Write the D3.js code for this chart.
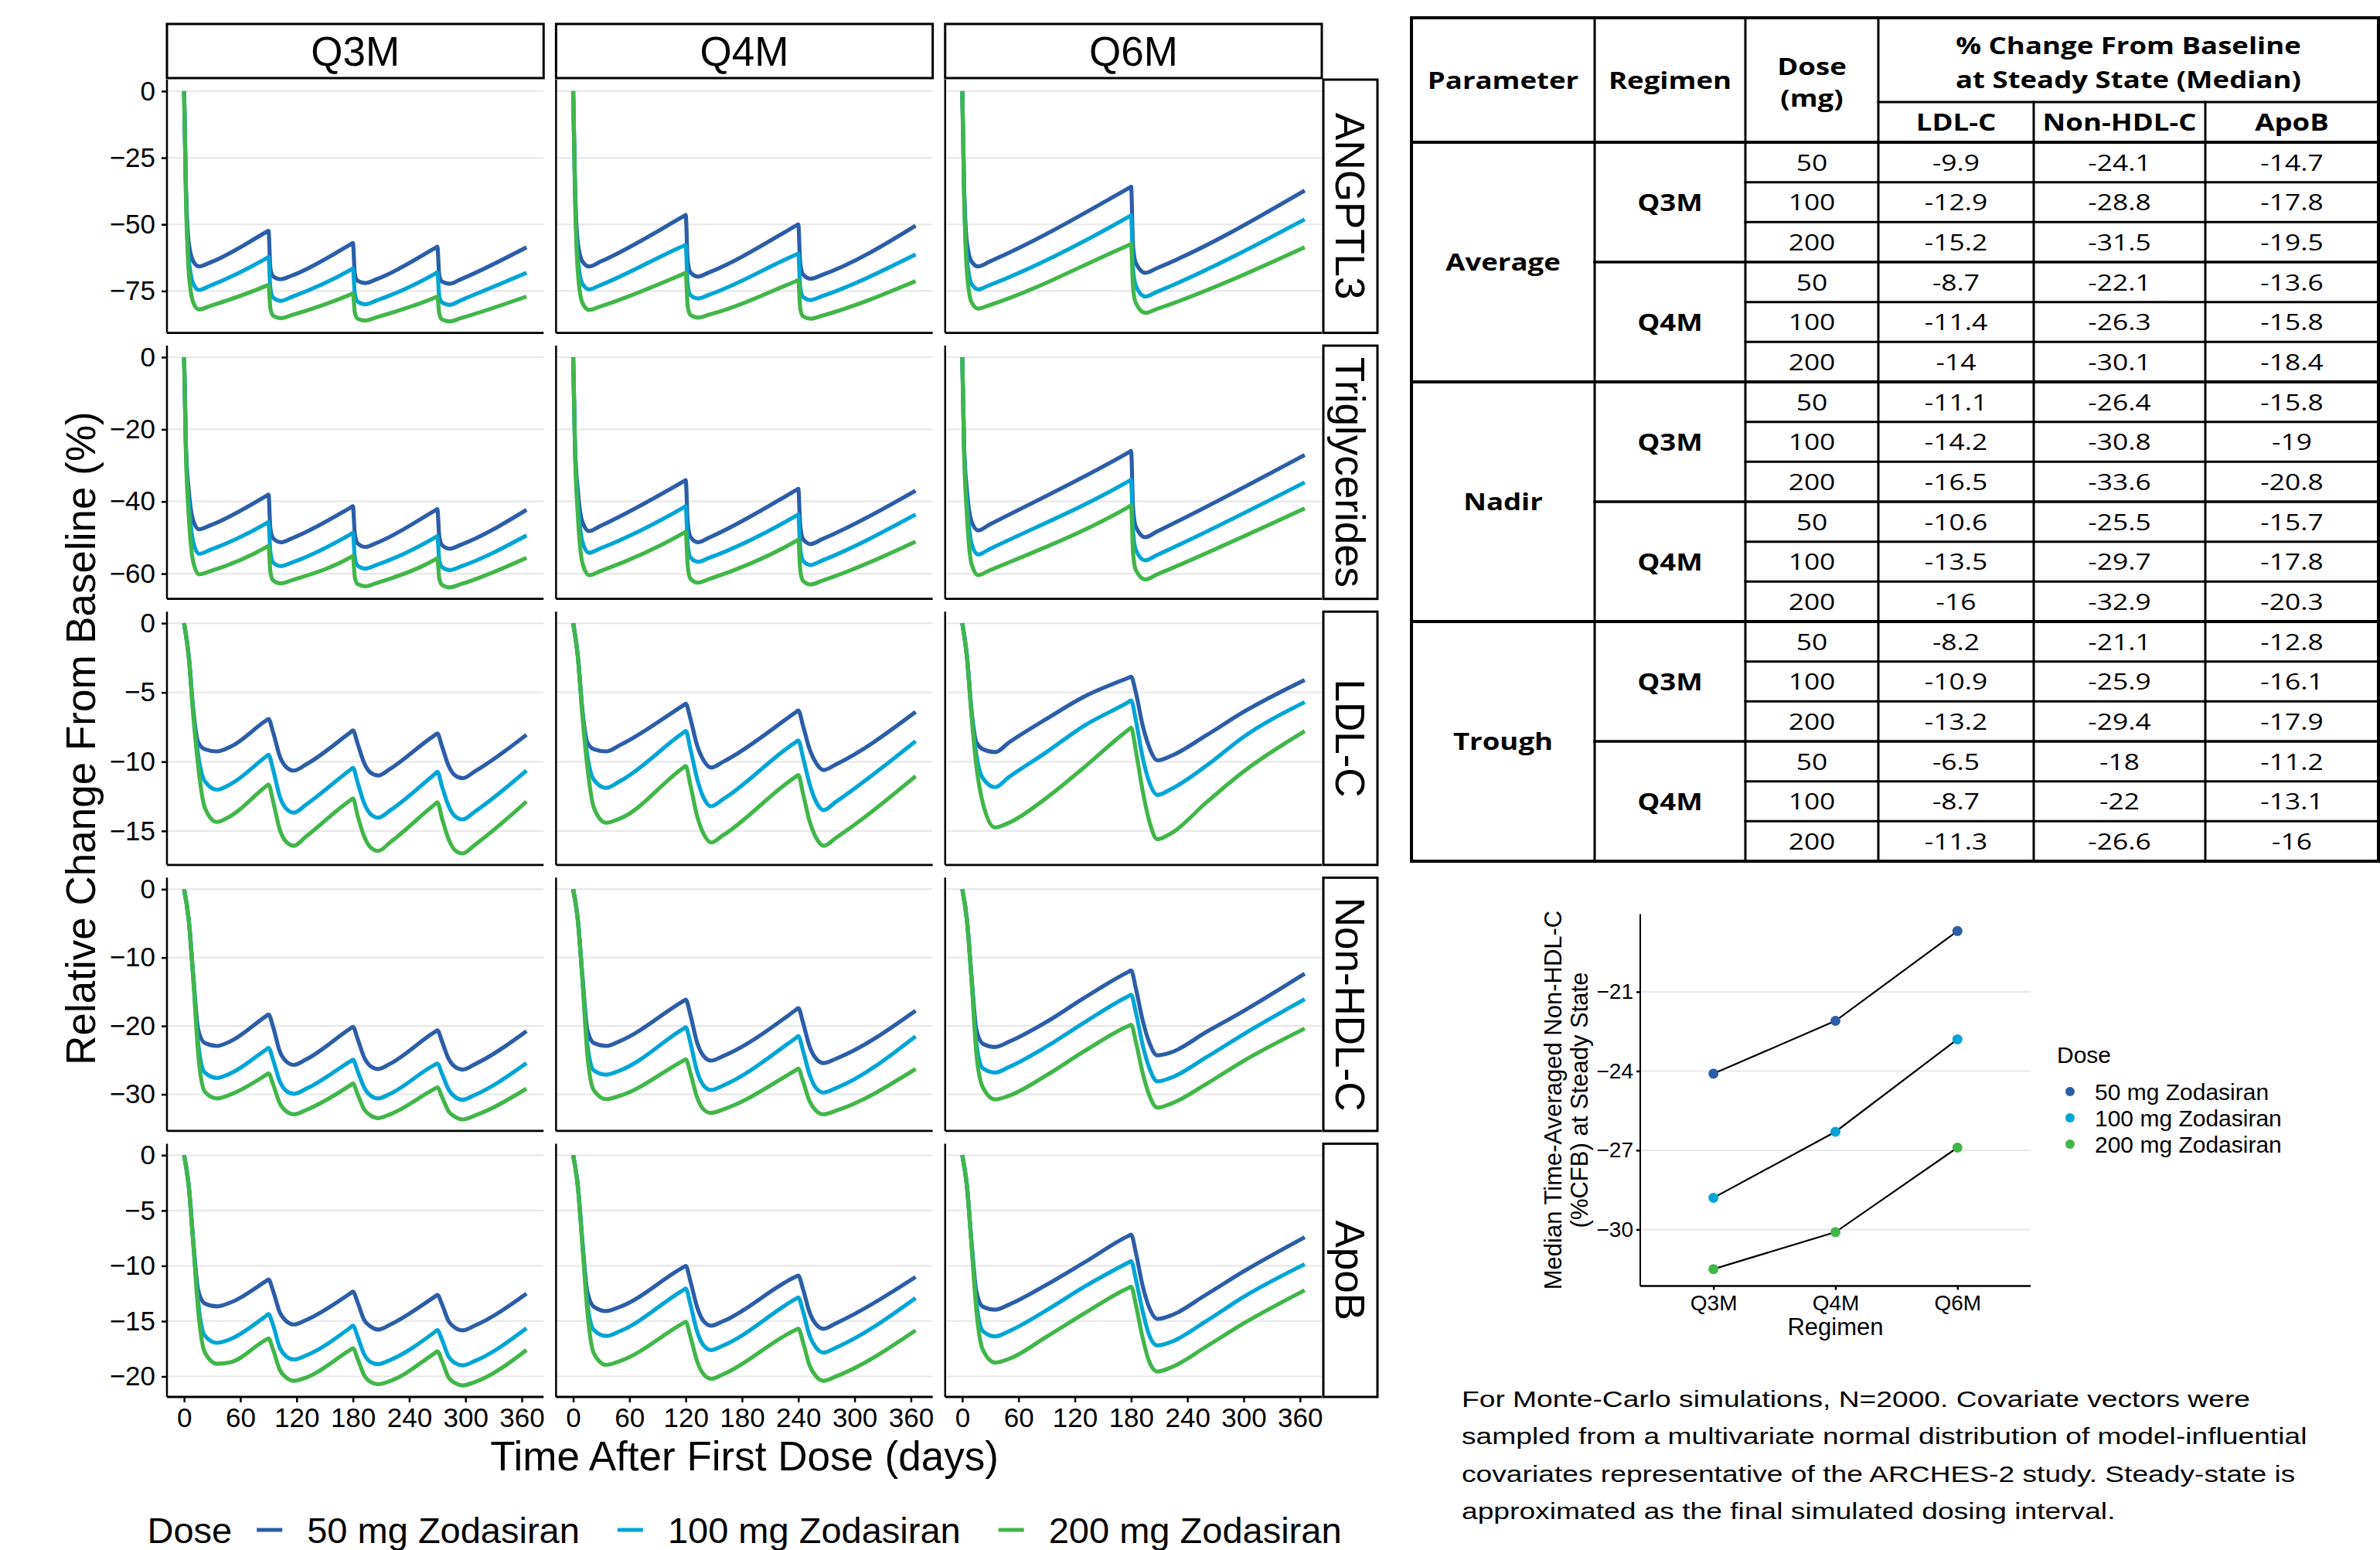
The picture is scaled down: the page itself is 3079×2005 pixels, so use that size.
<!DOCTYPE html>
<html>
<head>
<meta charset="utf-8">
<script src="https://cdn.jsdelivr.net/npm/d3@7"></script>
<style>
    body { margin: 0; background: #fff; }
    svg { display: block; }
</style>
</head>
<body>
<svg id="chart" width="3079" height="2005"></svg>
<script>
const FONT = "'Liberation Sans', Arial, sans-serif";
const TABLE_FONT = "'Open Sans', sans-serif";

const REGIMENS = ['Q3M', 'Q4M', 'Q6M'];
const PARAMETERS = ['ANGPTL3', 'Triglycerides', 'LDL-C', 'Non-HDL-C', 'ApoB'];
const DOSES = ['50 mg Zodasiran', '100 mg Zodasiran', '200 mg Zodasiran'];
const DOSE_COLORS = ['#2c5da7', '#00a5d5', '#41b649'];
const X_TICKS = [0, 60, 120, 180, 240, 300, 360];
const Y_TICKS = [
    [0, -25, -50, -75],
    [0, -20, -40, -60],
    [0, -5, -10, -15],
    [0, -10, -20, -30],
    [0, -5, -10, -15, -20],
];

const DAYS_FAST_Q3M = [0, 2, 5, 10, 16, 28, 88, 90, 92, 95, 103, 115, 178, 180, 182, 185, 193, 205, 268, 270, 272, 275, 283, 295, 365];
const DAYS_FAST_Q4M = [0, 2, 5, 10, 17, 29, 118, 120, 122, 125, 133, 145, 238, 240, 242, 245, 253, 265, 365];
const DAYS_FAST_Q6M = [0, 2, 5, 10, 17, 29, 178, 180, 182, 185, 195, 207, 365];
const DAYS_SLOW_Q3M = [0, 5, 10, 15, 22, 35, 50, 87, 90, 95, 102, 109, 117, 130, 177, 180, 185, 192, 199, 207, 220, 267, 270, 275, 282, 289, 297, 310, 365];
const DAYS_SLOW_Q4M = [0, 5, 10, 15, 22, 35, 50, 117, 120, 125, 132, 139, 147, 160, 237, 240, 245, 252, 259, 267, 280, 365];
const DAYS_SLOW_Q6M = [0, 5, 10, 15, 22, 35, 50, 90, 130, 177, 180, 185, 192, 199, 208, 222, 260, 300, 365];

// each: [50 mg, 100 mg, 200 mg]
const ANGPTL3_Q3M = [
    [0, -36, -57, -64, -65.8, -64.3, -52.8, -52.4, -66.5, -69.5, -70.6, -69.2, -57.4, -57.0, -68.5, -71.2, -72.0, -70.6, -58.8, -58.4, -69.0, -71.5, -72.3, -70.6, -58.6],
    [0, -38, -63, -72.5, -74.6, -73.0, -62.7, -62.3, -74.0, -77.5, -78.7, -77.2, -67.0, -66.6, -76.0, -79.0, -80.0, -78.6, -68.4, -68.0, -77.0, -79.3, -80.2, -78.5, -68.2],
    [0, -40, -68, -79.5, -81.9, -80.6, -73.0, -72.7, -81.5, -84.3, -85.2, -84.0, -76.2, -75.9, -83.0, -85.4, -86.1, -84.9, -77.4, -77.1, -83.5, -85.7, -86.4, -85.2, -77.1],
];
const ANGPTL3_Q4M = [
    [0, -36, -57, -64, -65.8, -64.0, -46.9, -46.5, -63.5, -68.0, -69.6, -68.0, -50.4, -50.0, -64.5, -68.8, -70.4, -69.0, -50.5],
    [0, -38, -63, -72.4, -74.4, -72.8, -58.0, -57.7, -72.5, -76.5, -77.8, -76.4, -61.3, -61.0, -73.5, -77.2, -78.4, -77.0, -61.3],
    [0, -40, -68, -79.6, -82.1, -80.8, -68.5, -68.2, -80.5, -84.0, -85.0, -83.9, -71.2, -70.9, -81.5, -84.5, -85.4, -84.3, -71.3],
];
const ANGPTL3_Q6M = [
    [0, -36, -57, -64, -65.8, -64.0, -36.3, -35.9, -58, -64.5, -68.2, -66.5, -37.3],
    [0, -38, -63, -72.4, -74.4, -72.8, -47.0, -46.6, -66.5, -73, -77.1, -75.4, -48.1],
    [0, -40, -68, -79.3, -81.6, -80.3, -57.7, -57.4, -73.5, -79.5, -83.2, -81.8, -58.6],
];
const TG_Q3M = [
    [0, -25, -37, -45.5, -47.7, -46.6, -38.4, -38.1, -47.5, -50.2, -51.3, -50.2, -41.6, -41.3, -49.0, -51.6, -52.6, -51.5, -42.4, -42.1, -49.6, -52.1, -53.1, -52.0, -42.3],
    [0, -26, -40, -51.5, -54.5, -53.4, -46.0, -45.7, -54.0, -56.9, -57.9, -56.9, -49.0, -48.7, -55.5, -57.8, -58.6, -57.6, -49.9, -49.6, -56.2, -58.2, -59.0, -58.0, -49.4],
    [0, -27, -44, -57.0, -60.2, -59.3, -52.6, -52.3, -59.5, -61.9, -62.7, -61.8, -55.4, -55.1, -61.0, -62.9, -63.5, -62.6, -56.0, -55.7, -61.3, -63.1, -63.8, -62.9, -55.6],
];
const TG_Q4M = [
    [0, -25, -37, -45.8, -48.2, -46.8, -34.4, -34.1, -45.5, -49.8, -51.3, -50.0, -36.8, -36.5, -46.5, -50.4, -51.8, -50.5, -37.0],
    [0, -26, -40, -51.3, -54.2, -53.0, -41.6, -41.3, -51.5, -55.5, -56.7, -55.6, -43.9, -43.6, -53.0, -56.4, -57.6, -56.4, -43.6],
    [0, -27, -44, -57.2, -60.4, -59.3, -48.7, -48.4, -57.5, -61.4, -62.5, -61.5, -50.9, -50.6, -58.8, -62.0, -63.0, -62.0, -51.1],
];
const TG_Q6M = [
    [0, -25, -37, -45.6, -48.0, -46.4, -26.3, -26.0, -41.5, -47.0, -49.9, -48.4, -27.1],
    [0, -26, -40, -51.8, -54.7, -53.2, -34.3, -34.0, -48.0, -53.4, -56.3, -54.9, -34.7],
    [0, -27, -44, -57.4, -60.4, -59.1, -41.4, -41.1, -54.0, -59.0, -61.6, -60.3, -41.9],
];
const LDL_Q3M = [
    [0, -2.4, -6.4, -8.6, -9.1, -9.26, -8.9, -7.05, -6.92, -7.9, -9.6, -10.4, -10.64, -10.2, -7.9, -7.75, -8.7, -10.1, -10.8, -11.0, -10.5, -8.1, -7.97, -8.9, -10.3, -11.0, -11.19, -10.7, -8.06],
    [0, -2.4, -6.6, -9.5, -11.4, -12.02, -11.6, -9.65, -9.5, -10.6, -12.5, -13.4, -13.68, -13.1, -10.6, -10.45, -11.5, -13.0, -13.8, -14.04, -13.5, -10.9, -10.73, -11.8, -13.2, -13.95, -14.17, -13.6, -10.64],
    [0, -2.5, -6.8, -10.3, -13.3, -14.35, -13.9, -11.8, -11.65, -12.9, -14.9, -15.8, -16.07, -15.4, -12.8, -12.66, -13.9, -15.4, -16.2, -16.44, -15.8, -13.1, -12.94, -14.1, -15.6, -16.4, -16.62, -16.0, -12.88],
];
const LDL_Q4M = [
    [0, -2.4, -6.4, -8.6, -9.1, -9.26, -8.8, -5.95, -5.82, -6.9, -8.8, -9.9, -10.42, -10.0, -6.45, -6.31, -7.4, -9.1, -10.1, -10.6, -10.2, -6.41],
    [0, -2.4, -6.6, -9.5, -11.3, -11.89, -11.4, -7.93, -7.79, -9.1, -11.2, -12.6, -13.22, -12.7, -8.6, -8.47, -9.7, -11.6, -12.9, -13.49, -12.9, -8.52],
    [0, -2.5, -6.8, -10.3, -13.3, -14.4, -14.1, -10.45, -10.31, -11.7, -13.9, -15.2, -15.83, -15.3, -11.1, -10.97, -12.3, -14.3, -15.5, -16.07, -15.5, -11.04],
];
const LDL_Q6M = [
    [0, -2.4, -6.4, -8.6, -9.1, -9.31, -8.6, -6.9, -5.3, -3.95, -3.87, -5.0, -7.3, -8.9, -9.9, -9.6, -8.1, -6.4, -4.1],
    [0, -2.4, -6.6, -9.5, -11.2, -11.84, -11.1, -9.3, -7.4, -5.7, -5.58, -7.0, -9.6, -11.4, -12.4, -12.0, -10.3, -8.2, -5.7],
    [0, -2.5, -6.8, -10.3, -13.0, -14.75, -14.4, -12.6, -10.4, -7.7, -7.55, -9.2, -12.0, -14.2, -15.6, -15.2, -12.95, -10.7, -7.79],
];
const NONHDL_Q3M = [
    [0, -4.5, -13, -20.5, -22.5, -22.93, -22.2, -18.6, -18.33, -20.2, -23.7, -25.2, -25.7, -24.9, -20.4, -20.13, -21.9, -24.6, -25.9, -26.3, -25.5, -20.9, -20.65, -22.3, -24.8, -26.0, -26.38, -25.6, -20.76],
    [0, -4.5, -13.3, -22.5, -26.8, -27.6, -26.9, -23.5, -23.23, -25.0, -28.1, -29.5, -29.93, -29.2, -25.2, -24.95, -26.6, -29.0, -30.2, -30.6, -29.9, -25.7, -25.5, -27.0, -29.3, -30.4, -30.79, -30.1, -25.44],
    [0, -4.6, -13.6, -24.0, -29.6, -30.6, -30.0, -27.2, -26.94, -28.6, -31.3, -32.5, -32.92, -32.3, -28.7, -28.43, -30.0, -32.2, -33.1, -33.48, -32.9, -29.2, -28.99, -30.4, -32.5, -33.3, -33.67, -33.1, -29.18],
];
const NONHDL_Q4M = [
    [0, -4.5, -13, -20.5, -22.5, -22.93, -22.2, -16.4, -16.16, -18.4, -22.4, -24.4, -25.07, -24.4, -17.7, -17.4, -19.5, -23.0, -24.8, -25.44, -24.8, -17.77],
    [0, -4.5, -13.3, -22.5, -26.5, -27.12, -26.5, -20.45, -20.2, -22.5, -26.6, -28.7, -29.37, -28.7, -21.8, -21.51, -23.6, -27.1, -29.1, -29.74, -29.1, -21.51],
    [0, -4.6, -13.6, -24.0, -29.4, -30.7, -30.2, -25.1, -24.88, -26.9, -30.4, -32.2, -32.73, -32.2, -26.5, -26.26, -28.1, -31.0, -32.4, -32.92, -32.4, -26.3],
];
const NONHDL_Q6M = [
    [0, -4.5, -13, -20.5, -22.6, -23.08, -22.3, -19.4, -15.9, -12.1, -11.9, -14.5, -19.0, -22.3, -24.3, -23.9, -20.9, -17.8, -12.35],
    [0, -4.5, -13.3, -22.5, -26.2, -26.82, -26.0, -23.0, -19.5, -15.65, -15.45, -18.0, -22.6, -26.0, -28.1, -27.6, -24.6, -21.2, -16.09],
    [0, -4.6, -13.6, -24.0, -29.0, -30.75, -30.2, -27.2, -23.7, -20.0, -19.83, -22.3, -26.7, -30.0, -31.95, -31.4, -28.5, -25.1, -20.39],
];
const APOB_Q3M = [
    [0, -2.8, -8.0, -12.2, -13.4, -13.67, -13.3, -11.4, -11.24, -12.3, -14.2, -15.0, -15.3, -14.9, -12.5, -12.33, -13.3, -14.9, -15.5, -15.76, -15.3, -12.8, -12.63, -13.5, -15.0, -15.6, -15.83, -15.4, -12.51],
    [0, -2.8, -8.1, -13.3, -16.3, -16.96, -16.6, -14.55, -14.37, -15.4, -17.4, -18.2, -18.47, -18.1, -15.6, -15.41, -16.4, -18.0, -18.7, -18.89, -18.5, -16.0, -15.81, -16.7, -18.2, -18.8, -19.0, -18.6, -15.64],
    [0, -2.9, -8.3, -14.0, -17.8, -18.85, -18.7, -16.7, -16.57, -17.6, -19.4, -20.1, -20.39, -20.1, -17.6, -17.45, -18.4, -19.9, -20.5, -20.7, -20.4, -17.9, -17.73, -18.6, -20.1, -20.6, -20.81, -20.5, -17.61],
];
const APOB_Q4M = [
    [0, -2.8, -8.0, -12.3, -13.7, -14.09, -13.7, -10.15, -10.01, -11.4, -13.7, -15.0, -15.41, -15.0, -11.0, -10.89, -12.1, -14.2, -15.3, -15.69, -15.2, -11.01],
    [0, -2.8, -8.1, -13.3, -15.8, -16.34, -15.9, -12.2, -12.05, -13.5, -15.9, -17.2, -17.61, -17.2, -13.0, -12.86, -14.1, -16.3, -17.4, -17.84, -17.4, -12.91],
    [0, -2.9, -8.3, -14.0, -17.9, -18.95, -18.6, -15.2, -15.06, -16.4, -18.6, -19.8, -20.21, -19.8, -15.8, -15.69, -16.9, -19.0, -20.0, -20.39, -20.0, -15.83],
];
const APOB_Q6M = [
    [0, -2.8, -8.0, -12.3, -13.7, -13.97, -13.5, -11.7, -9.7, -7.3, -7.18, -8.8, -11.7, -13.7, -14.8, -14.5, -12.6, -10.5, -7.42],
    [0, -2.8, -8.1, -13.3, -15.9, -16.38, -15.9, -14.0, -11.9, -9.7, -9.57, -11.2, -14.0, -16.2, -17.2, -16.9, -15.0, -12.8, -9.85],
    [0, -2.9, -8.3, -14.0, -17.6, -18.75, -18.4, -16.4, -14.3, -12.0, -11.89, -13.5, -16.4, -18.6, -19.55, -19.2, -17.3, -15.2, -12.21],
];

// table values, rows in order Average/Nadir/Trough x Q3M/Q4M x 50/100/200
const TABLE_STATS = ['Average', 'Nadir', 'Trough'];
const TABLE_REGIMENS = ['Q3M', 'Q4M'];
const TABLE_DOSES = [50, 100, 200];
const TABLE_ENDPOINTS = ['LDL-C', 'Non-HDL-C', 'ApoB'];
const TABLE_LDL = [-9.9, -12.9, -15.2, -8.7, -11.4, -14, -11.1, -14.2, -16.5, -10.6, -13.5, -16, -8.2, -10.9, -13.2, -6.5, -8.7, -11.3];
const TABLE_NONHDL = [-24.1, -28.8, -31.5, -22.1, -26.3, -30.1, -26.4, -30.8, -33.6, -25.5, -29.7, -32.9, -21.1, -25.9, -29.4, -18, -22, -26.6];
const TABLE_APOB = [-14.7, -17.8, -19.5, -13.6, -15.8, -18.4, -15.8, -19, -20.8, -15.7, -17.8, -20.3, -12.8, -16.1, -17.9, -11.2, -13.1, -16];

// inset: median time-averaged non-HDL-C by regimen
const INSET_REGIMENS = ['Q3M', 'Q4M', 'Q6M'];
const INSET_50 = [-24.1, -22.1, -18.7];
const INSET_100 = [-28.8, -26.3, -22.8];
const INSET_200 = [-31.5, -30.1, -26.9];
const INSET_TICKS = [-21, -24, -27, -30];

const NOTE_LINES = [
    'For Monte-Carlo simulations, N=2000. Covariate vectors were',
    'sampled from a multivariate normal distribution of model-influential',
    'covariates representative of the ARCHES-2 study. Steady-state is',
    'approximated as the final simulated dosing interval.',
];

const SERIES = [
    [[DAYS_FAST_Q3M, ANGPTL3_Q3M], [DAYS_FAST_Q4M, ANGPTL3_Q4M], [DAYS_FAST_Q6M, ANGPTL3_Q6M]],
    [[DAYS_FAST_Q3M, TG_Q3M], [DAYS_FAST_Q4M, TG_Q4M], [DAYS_FAST_Q6M, TG_Q6M]],
    [[DAYS_SLOW_Q3M, LDL_Q3M], [DAYS_SLOW_Q4M, LDL_Q4M], [DAYS_SLOW_Q6M, LDL_Q6M]],
    [[DAYS_SLOW_Q3M, NONHDL_Q3M], [DAYS_SLOW_Q4M, NONHDL_Q4M], [DAYS_SLOW_Q6M, NONHDL_Q6M]],
    [[DAYS_SLOW_Q3M, APOB_Q3M], [DAYS_SLOW_Q4M, APOB_Q4M], [DAYS_SLOW_Q6M, APOB_Q6M]],
];

const svg = d3.select('#chart');

// ---------- faceted time-course chart ----------
const fx = d3.scaleBand().domain(REGIMENS).range([216, 1710]).paddingInner(0.032);
const fy = d3.scaleBand().domain(PARAMETERS).range([103, 1807]).paddingInner(0.048);
const bw = fx.bandwidth();
const bh = fy.bandwidth();
const x = d3.scaleLinear().domain([-18.25, 383.25]).range([0, bw]);

const styleAxis = (g, size) => {
    g.select('.domain').remove();
    g.selectAll('.tick line').attr('stroke', '#000').attr('stroke-width', 2.5);
    g.selectAll('.tick text').attr('fill', '#000').attr('font-family', FONT).attr('font-size', size);
};

PARAMETERS.forEach((param, row) => {
    const panels = SERIES[row];
    const lo = d3.min(panels, p => d3.min(p[1], v => d3.min(v)));
    const hi = d3.max(panels, p => d3.max(p[1], v => d3.max(v)));
    const pad = (hi - lo) * 0.05;
    const y = d3.scaleLinear().domain([lo - pad, hi + pad]).range([bh, 0]);
    const line = d3.line().x(d => x(d[0])).y(d => y(d[1])).curve(d3.curveMonotoneX);

    REGIMENS.forEach((reg, col) => {
        const g = svg.append('g').attr('transform', `translate(${fx(reg)},${fy(param)})`);

        g.selectAll('.grid')
            .data(Y_TICKS[row])
            .enter()
            .append('line')
            .attr('x1', 0)
            .attr('x2', bw)
            .attr('y1', d => y(d))
            .attr('y2', d => y(d))
            .attr('stroke', '#e8e8e8')
            .attr('stroke-width', 2.2);

        const [days, vals] = panels[col];
        g.selectAll('.curve')
            .data(vals)
            .enter()
            .append('path')
            .attr('d', v => line(days.map((t, i) => [t, v[i]])))
            .attr('fill', 'none')
            .attr('stroke', (v, i) => DOSE_COLORS[i])
            .attr('stroke-width', 5.2)
            .attr('stroke-linejoin', 'round');

        g.append('line').attr('x1', 0).attr('x2', 0).attr('y1', 0).attr('y2', bh)
            .attr('stroke', '#000').attr('stroke-width', 2.5);
        g.append('line').attr('x1', 0).attr('x2', bw).attr('y1', bh).attr('y2', bh)
            .attr('stroke', '#000').attr('stroke-width', 2.8);

        if (col === 0) {
            g.append('g')
                .call(d3.axisLeft(y).tickValues(Y_TICKS[row]).tickSize(7).tickPadding(8).tickFormat(d3.format('d')))
                .call(a => styleAxis(a, 35));
        }
        if (row === PARAMETERS.length - 1) {
            g.append('g')
                .attr('transform', `translate(0,${bh})`)
                .call(d3.axisBottom(x).tickValues(X_TICKS).tickSize(7).tickPadding(7))
                .call(a => styleAxis(a, 35));
        }
        if (row === 0) {
            g.append('rect').attr('x', 0).attr('y', -72).attr('width', bw).attr('height', 70)
                .attr('fill', '#fff').attr('stroke', '#000').attr('stroke-width', 3);
            g.append('text').attr('x', bw / 2).attr('y', -37).attr('dy', '0.36em')
                .attr('text-anchor', 'middle').attr('font-family', FONT).attr('font-size', 53)
                .text(reg);
        }
        if (col === REGIMENS.length - 1) {
            g.append('rect').attr('x', bw + 2).attr('y', 0).attr('width', 70).attr('height', bh)
                .attr('fill', '#fff').attr('stroke', '#000').attr('stroke-width', 3);
            g.append('text')
                .attr('transform', `translate(${bw + 37},${bh / 2}) rotate(90)`)
                .attr('dy', '0.36em')
                .attr('text-anchor', 'middle').attr('font-family', FONT).attr('font-size', 53)
                .text(param);
        }
    });
});

svg.append('text')
    .attr('transform', 'translate(104,955) rotate(-90)')
    .attr('dy', '0.36em')
    .attr('text-anchor', 'middle')
    .attr('font-family', FONT)
    .attr('font-size', 53)
    .text('Relative Change From Baseline (%)');

svg.append('text')
    .attr('x', 963)
    .attr('y', 1883)
    .attr('dy', '0.36em')
    .attr('text-anchor', 'middle')
    .attr('font-family', FONT)
    .attr('font-size', 53)
    .text('Time After First Dose (days)');

// bottom legend
const legend = svg.append('g').attr('font-family', FONT).attr('font-size', 47);
let lx = 0;
const legendTitle = legend.append('text').attr('x', lx).attr('dy', '0.36em').text('Dose');
lx += legendTitle.node().getComputedTextLength() + 32;
DOSES.forEach((dose, i) => {
    legend.append('line').attr('x1', lx).attr('x2', lx + 33).attr('y1', 0).attr('y2', 0)
        .attr('stroke', DOSE_COLORS[i]).attr('stroke-width', 5.2);
    lx += 33 + 32;
    const t = legend.append('text').attr('x', lx).attr('dy', '0.36em').text(dose);
    lx += t.node().getComputedTextLength() + 49;
});
lx -= 49;
legend.attr('transform', `translate(${963 - lx / 2},1979)`);

// ---------- summary table ----------
const TX = [1826, 2063, 2258, 2430, 2631, 2853, 3077];
const T_TOP = 23, T_SPLIT = 132, T_HEAD = 184, T_BOTTOM = 1114;
const rowY = d3.scaleLinear().domain([0, 18]).range([T_HEAD, T_BOTTOM]);
const tg = svg.append('g').attr('font-family', TABLE_FONT);

const cellText = (cx, cy, text, bold) => tg.append('text')
    .attr('transform', `translate(${cx},${cy}) scale(1.18,1)`)
    .attr('text-anchor', 'middle')
    .attr('dy', '0.36em')
    .attr('font-size', bold ? 31 : 30)
    .attr('font-weight', bold ? 700 : 400)
    .text(text);
const hline = (x1, x2, yy, w) => tg.append('line').attr('x1', x1).attr('x2', x2).attr('y1', yy).attr('y2', yy)
    .attr('stroke', '#000').attr('stroke-width', w).attr('stroke-linecap', 'square');
const vline = (xx, y1, y2, w) => tg.append('line').attr('x1', xx).attr('x2', xx).attr('y1', y1).attr('y2', y2)
    .attr('stroke', '#000').attr('stroke-width', w).attr('stroke-linecap', 'square');

const tableRows = [];
TABLE_STATS.forEach((s, si) => TABLE_REGIMENS.forEach((r, ri) => TABLE_DOSES.forEach((d, di) => {
    const i = si * 6 + ri * 3 + di;
    tableRows.push({ dose: d, values: [TABLE_LDL[i], TABLE_NONHDL[i], TABLE_APOB[i]] });
})));

const mid = (a, b) => (a + b) / 2;
cellText(mid(TX[0], TX[1]), mid(T_TOP, T_HEAD), 'Parameter', true);
cellText(mid(TX[1], TX[2]), mid(T_TOP, T_HEAD), 'Regimen', true);
cellText(mid(TX[2], TX[3]), 86, 'Dose', true);
cellText(mid(TX[2], TX[3]), 127, '(mg)', true);
cellText(mid(TX[3], TX[6]), 59, '% Change From Baseline', true);
cellText(mid(TX[3], TX[6]), 103, 'at Steady State (Median)', true);
TABLE_ENDPOINTS.forEach((e, j) => cellText(mid(TX[3 + j], TX[4 + j]), mid(T_SPLIT, T_HEAD), e, true));

TABLE_STATS.forEach((s, si) => cellText(mid(TX[0], TX[1]), mid(rowY(si * 6), rowY(si * 6 + 6)), s, true));
TABLE_STATS.forEach((s, si) => TABLE_REGIMENS.forEach((r, ri) => {
    const k = si * 6 + ri * 3;
    cellText(mid(TX[1], TX[2]), mid(rowY(k), rowY(k + 3)), r, true);
}));
tableRows.forEach((r, i) => {
    const cy = mid(rowY(i), rowY(i + 1));
    cellText(mid(TX[2], TX[3]), cy, r.dose, false);
    r.values.forEach((v, j) => cellText(mid(TX[3 + j], TX[4 + j]), cy, String(v), false));
});

d3.range(1, 18).forEach(i => {
    if (i % 6 === 0) hline(TX[0], TX[6], rowY(i), 4);
    else if (i % 3 === 0) hline(TX[1], TX[6], rowY(i), 3.5);
    else hline(TX[2], TX[6], rowY(i), 3);
});
hline(TX[3], TX[6], T_SPLIT, 3);
hline(TX[0], TX[6], T_HEAD, 4);
[1, 2, 3].forEach(j => vline(TX[j], T_TOP, T_BOTTOM, 3));
[4, 5].forEach(j => vline(TX[j], T_SPLIT, T_BOTTOM, 3));
tg.append('rect').attr('x', TX[0]).attr('y', T_TOP).attr('width', TX[6] - TX[0]).attr('height', T_BOTTOM - T_TOP)
    .attr('fill', 'none').attr('stroke', '#000').attr('stroke-width', 4);

// ---------- inset point chart ----------
const insetSeries = [INSET_50, INSET_100, INSET_200];
const iLeft = 2122, iRight = 2627, iTop = 1182.5, iBottom = 1663.5;
const ix = d3.scalePoint().domain(INSET_REGIMENS).range([iLeft, iRight]).padding(0.6);
const iLo = d3.min(insetSeries, s => d3.min(s));
const iHi = d3.max(insetSeries, s => d3.max(s));
const iPad = (iHi - iLo) * 0.05;
const iy = d3.scaleLinear().domain([iLo - iPad, iHi + iPad]).range([iBottom, iTop]);
const ig = svg.append('g');

ig.selectAll('.igrid')
    .data(INSET_TICKS)
    .enter()
    .append('line')
    .attr('x1', iLeft)
    .attr('x2', iRight)
    .attr('y1', d => iy(d))
    .attr('y2', d => iy(d))
    .attr('stroke', '#e8e8e8')
    .attr('stroke-width', 2);

const iline = d3.line().x((d, i) => ix(INSET_REGIMENS[i])).y(d => iy(d));
ig.selectAll('.iline')
    .data(insetSeries)
    .enter()
    .append('path')
    .attr('d', s => iline(s))
    .attr('fill', 'none')
    .attr('stroke', '#000')
    .attr('stroke-width', 2.2);

insetSeries.forEach((s, k) => {
    ig.selectAll(`.ipt${k}`)
        .data(s)
        .enter()
        .append('circle')
        .attr('cx', (d, i) => ix(INSET_REGIMENS[i]))
        .attr('cy', d => iy(d))
        .attr('r', 6.5)
        .attr('fill', DOSE_COLORS[k]);
});

ig.append('line').attr('x1', iLeft).attr('x2', iLeft).attr('y1', iTop).attr('y2', iBottom)
    .attr('stroke', '#000').attr('stroke-width', 2);
ig.append('line').attr('x1', iLeft).attr('x2', iRight).attr('y1', iBottom).attr('y2', iBottom)
    .attr('stroke', '#000').attr('stroke-width', 2.5);

ig.append('g')
    .attr('transform', `translate(${iLeft},0)`)
    .call(d3.axisLeft(iy).tickValues(INSET_TICKS).tickSize(5).tickPadding(4).tickFormat(d3.format('d')))
    .call(a => styleAxis(a, 28));
ig.append('g')
    .attr('transform', `translate(0,${iBottom})`)
    .call(d3.axisBottom(ix).tickSize(5).tickPadding(7))
    .call(a => styleAxis(a, 28));

ig.append('text')
    .attr('x', ix('Q4M'))
    .attr('y', 1716)
    .attr('dy', '0.36em')
    .attr('text-anchor', 'middle')
    .attr('font-family', FONT)
    .attr('font-size', 31)
    .text('Regimen');

const iTitle = ig.append('text')
    .attr('transform', `translate(2009,${mid(iTop, iBottom)}) rotate(-90)`)
    .attr('text-anchor', 'middle')
    .attr('font-family', FONT)
    .attr('font-size', 31);
iTitle.append('tspan').attr('x', 0).attr('dy', '0.36em').text('Median Time-Averaged Non-HDL-C');
iTitle.append('tspan').attr('x', 0).attr('dy', '1.1em').text('(%CFB) at Steady State');

const ilg = ig.append('g').attr('font-family', FONT).attr('font-size', 30);
ilg.append('text').attr('x', 2661).attr('y', 1364).attr('dy', '0.36em').text('Dose');
DOSES.forEach((dose, i) => {
    const yy = 1412 + i * 34;
    ilg.append('circle').attr('cx', 2678).attr('cy', yy).attr('r', 6).attr('fill', DOSE_COLORS[i]);
    ilg.append('text').attr('x', 2710).attr('y', yy).attr('dy', '0.36em').text(dose);
});

// ---------- footnote ----------
svg.append('g')
    .selectAll('text')
    .data(NOTE_LINES)
    .enter()
    .append('text')
    .attr('transform', (d, i) => `translate(1891,${1820 + i * 48.4}) scale(1.24,1)`)
    .attr('font-family', FONT)
    .attr('font-size', 30)
    .text(d => d);
</script>
</body>
</html>
